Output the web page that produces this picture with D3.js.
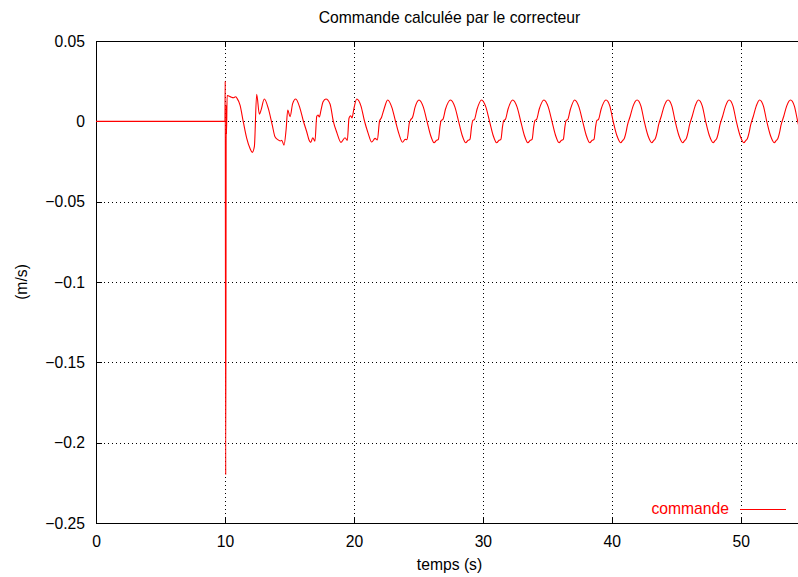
<!DOCTYPE html>
<html>
<head>
<meta charset="utf-8">
<script src="https://cdn.jsdelivr.net/npm/d3@7"></script>
<style>
  body { margin: 0; background: #fff; }
  svg { display: block; font-family: "Liberation Sans", Arial, sans-serif; }
</style>
</head>
<body>
<script>
// axes
const xTicks = [0, 10, 20, 30, 40, 50];
const yTicks = [-0.25, -0.2, -0.15, -0.1, -0.05, 0, 0.05];
const yTickLabels = ["\u22120.25", "\u22120.2", "\u22120.15", "\u22120.1", "\u22120.05", "0", "0.05"];

// signal, one row per oscillation
const temps = [
  0, 10.00, 10.02, 10.06, 10.10, 10.12, 10.17,
  10.25, 10.47, 10.65, 10.83, 10.94, 11.17, 11.42, 11.69, 11.94, 12.12, 12.28,
  12.46, 12.67, 12.80, 13.05, 13.36, 13.67, 13.88, 14.14, 14.30, 14.40, 14.58, 14.74, 14.87, 15.05, 15.25,
  15.49, 15.82, 16.08, 16.34, 16.52, 16.65, 16.81, 16.98, 17.12, 17.22, 17.32, 17.45, 17.60,
  17.83, 18.15, 18.40, 18.69, 19.00, 19.31, 19.49, 19.62, 19.74, 19.85, 20.01,
  20.22, 20.55, 20.82, 21.10, 21.38, 21.64, 21.82, 21.99, 22.14, 22.34,
  22.62, 22.95, 23.22, 23.50, 23.77, 23.98, 24.12, 24.30, 24.40, 24.55, 24.75,
  25.05, 25.38, 25.67, 25.95, 26.22, 26.41, 26.55, 26.68, 26.77, 26.90, 27.10,
  27.50, 27.83, 28.12, 28.40, 28.67, 28.86, 29.00, 29.13, 29.22, 29.35, 29.55,
  29.90, 30.23, 30.52, 30.80, 31.07, 31.26, 31.40, 31.53, 31.62, 31.75, 31.95,
  32.32, 32.65, 32.94, 33.22, 33.49, 33.68, 33.82, 33.95, 34.04, 34.17, 34.37,
  34.74, 35.07, 35.36, 35.64, 35.91, 36.10, 36.24, 36.37, 36.46, 36.59, 36.79,
  37.12, 37.45, 37.74, 38.02, 38.29, 38.48, 38.62, 38.75, 38.84, 38.97, 39.17,
  39.55, 39.85, 40.10, 40.40, 40.69, 40.85, 40.95, 41.11, 41.21, 41.42, 41.65,
  41.96, 42.26, 42.51, 42.81, 43.10, 43.26, 43.36, 43.52, 43.62, 43.83, 44.06,
  44.36, 44.66, 44.91, 45.21, 45.50, 45.66, 45.76, 45.92, 46.02, 46.23, 46.46,
  46.72, 47.02, 47.27, 47.57, 47.86, 48.02, 48.12, 48.28, 48.38, 48.59, 48.82,
  49.10, 49.40, 49.65, 49.95, 50.24, 50.40, 50.50, 50.66, 50.76, 50.97, 51.20,
  51.46, 51.76, 52.01, 52.31, 52.60, 52.76, 52.86, 53.02, 53.12, 53.33, 53.56,
  53.86, 54.16, 54.41, 54.71
];
const commande = [
  0, 0, 0.0251, -0.2200, 0.0100, -0.0080, 0.0160,
  0.0159, 0.0151, 0.0147, 0.0153, 0.0143, 0.0101, -0.0002, -0.0106, -0.0168, -0.0193, -0.0158,
  0.0168, 0.0044, 0.0070, 0.0139, 0.0081, -0.0023, -0.0096, -0.0116, -0.0122, -0.0118, -0.0148, -0.0054, 0.0070, 0.0029, 0.0110,
  0.0139, 0.0081, 0.0002, -0.0065, -0.0116, -0.0131, -0.0102, -0.0123, 0.0031, 0.0039, 0.0027, 0.0070, 0.0120,
  0.0139, 0.0108, 0.0002, -0.0073, -0.0131, -0.0102, -0.0119, 0.0019, 0.0035, 0.0021, 0.0083,
  0.0139, 0.0095, 0.0002, -0.0073, -0.0129, -0.0106, -0.0116, 0.0002, 0.0024, 0.0077,
  0.0133, 0.0085, 0.0002, -0.0080, -0.0130, -0.0112, -0.0114, -0.0010, 0.0010, 0.0025, 0.0090,
  0.0133, 0.0090, 0.0000, -0.0088, -0.0133, -0.0118, -0.0112, -0.0030, 0.0005, 0.0012, 0.0075,
  0.0133, 0.0090, 0.0000, -0.0088, -0.0133, -0.0118, -0.0112, -0.0030, 0.0005, 0.0012, 0.0075,
  0.0133, 0.0090, 0.0000, -0.0088, -0.0133, -0.0118, -0.0112, -0.0030, 0.0005, 0.0012, 0.0075,
  0.0133, 0.0090, 0.0000, -0.0088, -0.0133, -0.0118, -0.0112, -0.0030, 0.0005, 0.0012, 0.0075,
  0.0133, 0.0090, 0.0000, -0.0088, -0.0133, -0.0118, -0.0112, -0.0030, 0.0005, 0.0012, 0.0075,
  0.0133, 0.0090, 0.0000, -0.0088, -0.0133, -0.0118, -0.0112, -0.0030, 0.0005, 0.0012, 0.0075,
  0.0133, 0.0095, 0.0002, -0.0090, -0.0133, -0.0118, -0.0110, -0.0065, -0.0025, 0.0030, 0.0095,
  0.0133, 0.0095, 0.0002, -0.0090, -0.0133, -0.0118, -0.0110, -0.0065, -0.0025, 0.0030, 0.0095,
  0.0133, 0.0095, 0.0002, -0.0090, -0.0133, -0.0118, -0.0110, -0.0065, -0.0025, 0.0030, 0.0095,
  0.0133, 0.0095, 0.0002, -0.0090, -0.0133, -0.0118, -0.0110, -0.0065, -0.0025, 0.0030, 0.0095,
  0.0133, 0.0095, 0.0002, -0.0090, -0.0133, -0.0118, -0.0110, -0.0065, -0.0025, 0.0030, 0.0095,
  0.0133, 0.0095, 0.0002, -0.0090, -0.0133, -0.0118, -0.0110, -0.0065, -0.0025, 0.0030, 0.0095,
  0.0133, 0.0095, 0.0002, -0.0090
];

const width = 798, height = 577;
const plot = { left: 96, right: 798, top: 41, bottom: 523 };
const fontSize = 15.7;

const svg = d3.select("body").append("svg").attr("width", width).attr("height", height);

const x = d3.scaleLinear().domain([0, 54.44]).range([plot.left, plot.right]);
const y = d3.scaleLinear().domain([-0.25, 0.05]).range([plot.bottom, plot.top]);

// grille pointillee
const grid = svg.append("g")
  .attr("stroke", "#000")
  .attr("stroke-width", 1)
  .attr("stroke-dasharray", "1,3")
  .attr("shape-rendering", "crispEdges");
grid.selectAll(".gx")
  .data(xTicks.slice(1))
  .enter()
  .append("line")
  .attr("x1", (d) => Math.round(x(d)) + 0.5)
  .attr("x2", (d) => Math.round(x(d)) + 0.5)
  .attr("y1", plot.top)
  .attr("y2", plot.bottom);
grid.selectAll(".gy")
  .data(yTicks.slice(1, -1))
  .enter()
  .append("line")
  .attr("x1", plot.left)
  .attr("x2", plot.right)
  .attr("y1", (d) => Math.round(y(d)) + 0.5)
  .attr("y2", (d) => Math.round(y(d)) + 0.5);

// axes, ticks vers l'interieur
const styleAxis = (g) => {
  g.selectAll("text").attr("font-size", fontSize).attr("font-family", "Liberation Sans, Arial, sans-serif").attr("fill", "#000");
  g.selectAll("path, line").attr("stroke", "#000").attr("shape-rendering", "crispEdges");
};

svg.append("g")
  .attr("transform", `translate(0,${plot.bottom})`)
  .call(d3.axisBottom(x).tickValues(xTicks).tickFormat(d3.format("d")).tickSizeInner(-6).tickSizeOuter(0).tickPadding(12.5))
  .call(styleAxis);

svg.append("g")
  .attr("transform", `translate(0,${plot.top})`)
  .call(d3.axisTop(x).tickValues(xTicks).tickFormat("").tickSizeInner(-6).tickSizeOuter(0))
  .call(styleAxis);

svg.append("g")
  .attr("transform", `translate(${plot.left},0)`)
  .call(d3.axisLeft(y).tickValues(yTicks).tickFormat((d, i) => yTickLabels[i]).tickSizeInner(-6).tickSizeOuter(0).tickPadding(11))
  .call(styleAxis);

// courbe
svg.append("clipPath").attr("id", "clip")
  .append("rect")
  .attr("x", plot.left).attr("y", plot.top - 1)
  .attr("width", plot.right - plot.left + 2).attr("height", plot.bottom - plot.top + 2);

const points = temps.map((t, i) => [t, commande[i]]);
const line = d3.line()
  .x((d) => x(d[0]))
  .y((d) => y(d[1]))
  .curve(d3.curveMonotoneX);

svg.append("path")
  .datum(points)
  .attr("clip-path", "url(#clip)")
  .attr("fill", "none")
  .attr("stroke", "#ff0000")
  .attr("stroke-width", 1.1)
  .attr("stroke-linejoin", "round")
  .attr("d", line);

// textes
svg.append("text")
  .attr("x", 449.5).attr("y", 23)
  .attr("text-anchor", "middle")
  .attr("font-size", fontSize)
  .text("Commande calculée par le correcteur");

svg.append("text")
  .attr("x", 449.5).attr("y", 570)
  .attr("text-anchor", "middle")
  .attr("font-size", fontSize)
  .text("temps (s)");

svg.append("text")
  .attr("transform", `translate(26.5,${(plot.top + plot.bottom) / 2}) rotate(-90)`)
  .attr("text-anchor", "middle")
  .attr("font-size", fontSize)
  .text("(m/s)");

// legende
svg.append("text")
  .attr("x", 729).attr("y", 514)
  .attr("text-anchor", "end")
  .attr("font-size", fontSize)
  .attr("fill", "#ff0000")
  .text("commande");
svg.append("line")
  .attr("x1", 740).attr("x2", 786)
  .attr("y1", 509.5).attr("y2", 509.5)
  .attr("stroke", "#ff0000")
  .attr("stroke-width", 1);
</script>
</body>
</html>
